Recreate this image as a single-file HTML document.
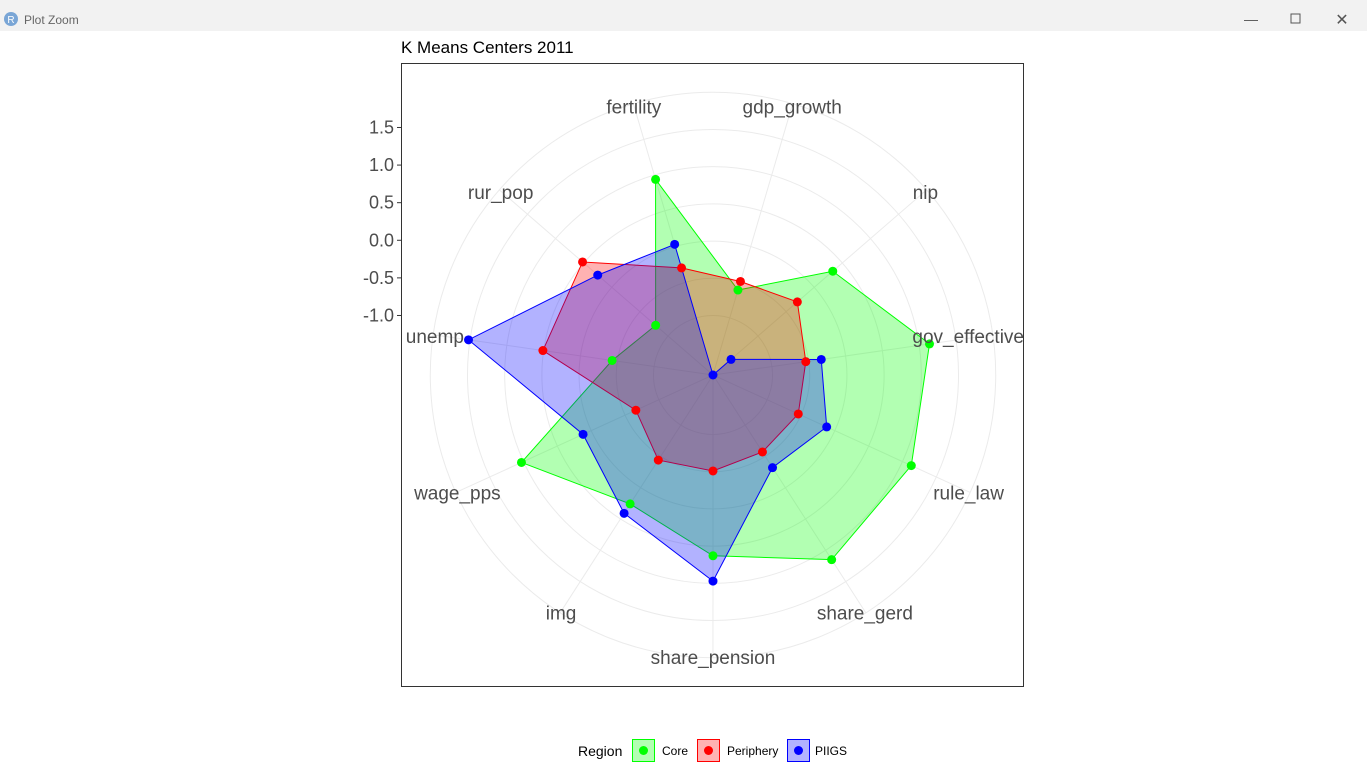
<!DOCTYPE html>
<html><head><meta charset="utf-8"><style>
body{margin:0;background:#fff;font-family:"Liberation Sans",sans-serif;}
#wrap{position:relative;width:1367px;height:776px;overflow:hidden;}
</style></head><body>
<div id="wrap">
<svg id="chart" width="1367" height="776" xmlns="http://www.w3.org/2000/svg">
<rect x="0" y="0" width="1367" height="31" fill="#f2f2f2"/>
<circle cx="11" cy="19" r="7" fill="#7aa6d6"/>
<text x="11" y="23" font-size="10" fill="#fff" text-anchor="middle">R</text>
<text x="24" y="24" font-size="12" fill="#666">Plot Zoom</text>
<text x="1251" y="24" font-size="14" fill="#555" text-anchor="middle">—</text>
<rect x="1291" y="14" width="9" height="9" fill="none" stroke="#555"/>
<text x="1342" y="25" font-size="16" fill="#555" text-anchor="middle">✕</text>
<text x="401" y="53" font-size="17" fill="#000">K Means Centers 2011</text>
<rect x="401.5" y="63.5" width="622" height="623" fill="#fff" stroke="#333" stroke-width="1"/>
<g id="grid"></g><g id="series"></g><g id="labels"></g><g id="yaxis"></g><g id="legend"></g>
</svg>
</div>
<script>
const categories = ["fertility","gdp_growth","nip","gov_effective","rule_law","share_gerd","share_pension","img","wage_pps","unemp","rur_pop"];
const coreValues = [0.94,-0.61,0.33,1.14,1.13,1.15,0.63,0.26,1.03,-0.43,-0.78];
const peripheryValues = [-0.30,-0.49,-0.30,-0.54,-0.54,-0.57,-0.51,-0.44,-0.66,0.51,0.52];
const piigsValues = [0.03,-1.80,-1.48,-0.33,-0.12,-0.32,0.97,0.41,0.12,1.52,0.25];
const seriesNames = ["Core","Periphery","PIIGS"];
const tickValues = [-1.0,-0.5,0.0,0.5,1.0,1.5];
const tickLabels = ["-1.0","-0.5","0.0","0.5","1.0","1.5"];
const gridValues = [-1.0,-0.5,0.0,0.5,1.0,1.5,2.0];

const NS="http://www.w3.org/2000/svg";
const cx=713, cy=375, vmin=-1.8, pxPer=74.4;
const colors=["#00ff00","#ff0000","#0000ff"];
function rScale(v){return (v-vmin)*pxPer;}
function angle(i){return (-16.36+i*360/categories.length)*Math.PI/180;}
function pt(i,v){const r=rScale(v),a=angle(i);return [cx+r*Math.sin(a),cy-r*Math.cos(a)];}
function mk(tag,attrs,parent){const e=document.createElementNS(NS,tag);for(const k in attrs)e.setAttribute(k,attrs[k]);parent.appendChild(e);return e;}

const grid=document.getElementById('grid');
gridValues.forEach(v=>{
  const c=mk('circle',{cx:cx,cy:cy,r:rScale(v),fill:'none',stroke:'#ebebeb','stroke-width':1},grid);
  
  
});
categories.forEach((c,i)=>{
  const p=pt(i,2.0);
  const l=mk('line',{x1:cx,y1:cy,x2:p[0],y2:p[1],stroke:'#ebebeb','stroke-width':1},grid);
  
  
});

const sg=document.getElementById('series');
[coreValues,peripheryValues,piigsValues].forEach((vals,s)=>{
  const pts=vals.map((v,i)=>pt(i,v));
  const poly=mk('polygon',{points:pts.map(p=>p.join(',')).join(' '),fill:colors[s],'fill-opacity':0.3,stroke:colors[s],'stroke-width':1},sg);
  
  
});
[coreValues,peripheryValues,piigsValues].forEach((vals,s)=>{
  vals.forEach((v,i)=>{
    const p=pt(i,v);
    const c=mk('circle',{cx:p[0],cy:p[1],r:4.5,fill:colors[s]},sg);
    
    
  });
});

const lg=document.getElementById('labels');
categories.forEach((c,i)=>{
  const a=angle(i), r=281;
  let x=cx+r*Math.sin(a), anchor='middle';
  if(x>985){x=1024;anchor='end';}
  const t=mk('text',{x:x,y:cy-r*Math.cos(a)+8,'text-anchor':anchor,'font-size':19,fill:'#4d4d4d'},lg);
  t.textContent=c;
  
  
});

const ya=document.getElementById('yaxis');
tickValues.forEach((v,i)=>{
  const y=cy-rScale(v)-(v+1)*0.8;
  const t=mk('text',{x:394,y:y+6,'text-anchor':'end','font-size':18,fill:'#4d4d4d'},ya);
  t.textContent=tickLabels[i];
  
  
  const l=mk('line',{x1:397,x2:401,y1:y,y2:y,stroke:'#333'},ya);
  
  
});

const leg=document.getElementById('legend');
const rt=mk('text',{x:578,y:756,'font-size':14,fill:'#000'},leg);
rt.textContent='Region';


const boxX=[632,697,787], txtX=[662,727,815];
seriesNames.forEach((n,s)=>{
  const b=mk('rect',{x:boxX[s]+0.5,y:739.5,width:22,height:22,fill:colors[s],'fill-opacity':0.3,stroke:colors[s]},leg);
  
  
  const d=mk('circle',{cx:boxX[s]+11.5,cy:750.5,r:4.5,fill:colors[s]},leg);
  
  
  const t=mk('text',{x:txtX[s],y:755,'font-size':12,fill:'#000'},leg);
  t.textContent=n;
  
  
});
</script>
</body></html>
